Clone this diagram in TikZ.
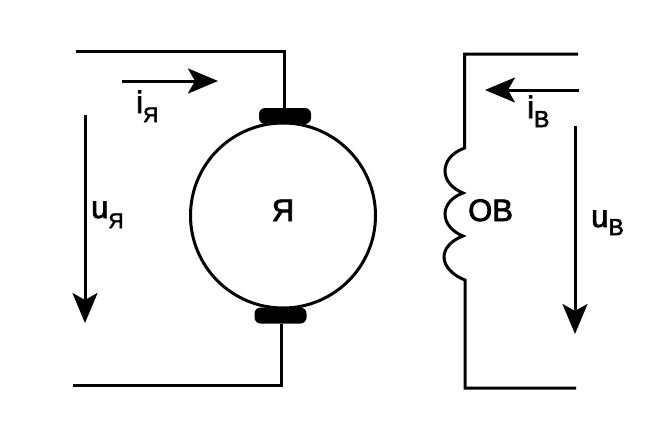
\documentclass[tikz,border=0pt]{standalone}
\usepackage{fontspec}
\setmainfont[FakeBold=2.5]{Liberation Sans}
\usetikzlibrary{arrows.meta}
\tikzset{
  x=1pt,y=-1pt,
  wire/.style={line width=3pt,line join=miter,black},
  meas/.style={wire,-{Stealth[length=30pt,width=25pt,inset=7pt]}},
  brush/.style={fill=black,rounded corners=6pt,inner sep=0pt,minimum width=52pt,minimum height=16pt},
  armature/.style={circle,draw=black,line width=3pt,inner sep=0pt,minimum size=185pt},
  lbl/.style={inner sep=0pt,text=black,font=\fontsize{31}{33}\selectfont}
}
\newcommand{\lowsub}[3]{\raisebox{#3}{\fontsize{#2}{#2}\selectfont #1}}
\begin{document}
\begin{tikzpicture}
\useasboundingbox (0,0) rectangle (651,439);
\fill[white] (0,0) rectangle (651,439);
% armature
\node[armature] (arm) at (283,215.5) {};
\node[brush] (brT) at (285,116) {};
\node[brush] (brB) at (280.5,315.5) {};
\coordinate (tl) at (76,51);
\coordinate (tc) at (284,51);
\coordinate (bl) at (73,385);
\coordinate (bc) at (281,385);
\draw[wire] (tl) -- (tc) -- (brT.north -| tc);
\draw[wire] (bl) -- (bc) -- (brB.south -| bc);
% armature arrows
\coordinate (ia) at (122,81);
\coordinate (ib) at (218,81);
\coordinate (ua) at (85,115);
\coordinate (ub) at (85,323);
\draw[meas] (ia) -- (ib);
\draw[meas] (ua) -- (ub);
% field winding
\coordinate (ftr) at (578,54);
\coordinate (ftl) at (464.5,54);
\coordinate (fc1) at (464.5,148);
\coordinate (fc2) at (463,193);
\coordinate (fc3) at (463,236);
\coordinate (fc4) at (465,280);
\coordinate (fbl) at (465,388);
\coordinate (fbr) at (576,388);
\draw[wire] (ftr) -- (ftl) -- (fc1)
  .. controls (451,153) and (445,162) .. (445,171)
  .. controls (445,181) and (453,189) .. (fc2)
  .. controls (452,197) and (445,205) .. (445,214)
  .. controls (445,224) and (453,232) .. (fc3)
  .. controls (452,240) and (444,248) .. (444,257)
  .. controls (444,267) and (454,276) .. (fc4)
  -- (fbl) -- (fbr);
% field arrows
\coordinate (fia) at (579,90);
\coordinate (fib) at (485,90);
\coordinate (fua) at (575,126);
\coordinate (fub) at (575,334);
\draw[meas] (fia) -- (fib);
\draw[meas] (fua) -- (fub);
% labels
\node[lbl,anchor=base west] (li) at (136,113) {i\lowsub{Я}{21}{-9pt}};
\node[lbl,anchor=base west] (lu) at (91,218) {u\lowsub{Я}{21}{-10pt}};
\node[lbl,anchor=base] (lr) at (283,221) {Я};
\node[lbl,anchor=base west] (lf) at (468,221) {ОВ};
\node[lbl,anchor=base west] (lib) at (527,118) {i\lowsub{В}{23}{-9pt}};
\node[lbl,anchor=base west] (lub) at (591,227) {u\lowsub{В}{23}{-8pt}};
\end{tikzpicture}
\end{document}
